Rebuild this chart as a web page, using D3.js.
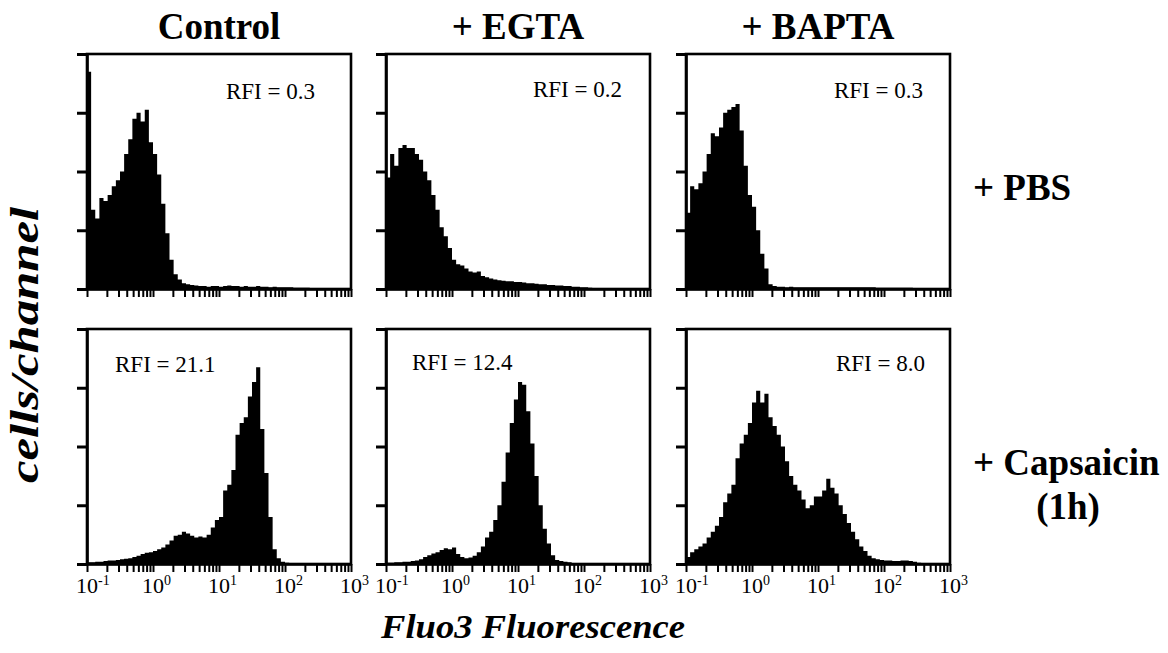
<!DOCTYPE html>
<html>
<head>
<meta charset="utf-8">
<script src="https://cdn.jsdelivr.net/npm/d3@7"></script>
<style>
  body { margin: 0; background: #fff; }
  svg { display: block; }
  text { font-family: "Liberation Serif", "Times New Roman", serif; fill: #000; }
</style>
</head>
<body>
<svg id="chart" width="1168" height="653"></svg>
<script>
// column / row headings
const columns = ['Control', '+ EGTA', '+ BAPTA'];
const rows = ['+ PBS', '+ Capsaicin'];
const rfi = [
  ['RFI = 0.3', 'RFI = 0.2', 'RFI = 0.3'],
  ['RFI = 21.1', 'RFI = 12.4', 'RFI = 8.0']
];
const decades = [0.1, 1, 10, 100, 1000];
const decadeExp = ['-1', '0', '1', '2', '3'];
const yTicks = [0, 1, 2, 3, 4];

// histogram heights, 64 channels over 10^-1 .. 10^3 (16 per decade), in y-tick units
const controlPbs = [3.7, 1.35, 1.2, 1.55, 1.5, 1.6, 1.75, 1.85, 2.0, 2.3, 2.55, 2.9, 3.0, 2.85, 3.05, 2.5,
  2.3, 1.95, 1.45, 0.95, 0.5, 0.25, 0.16, 0.1, 0.08, 0.07, 0.06, 0.05, 0.05, 0.04, 0.05, 0.05,
  0.04, 0.05, 0.06, 0.05, 0.05, 0.04, 0.05, 0.04, 0.04, 0.05, 0.04, 0.04, 0.03, 0.04, 0.03, 0.03,
  0.03, 0.03, 0.02, 0.02, 0.02, 0.02, 0, 0, 0, 0, 0, 0, 0, 0, 0, 0];
const egtaPbs = [1.9, 2.3, 2.1, 2.4, 2.45, 2.4, 2.4, 2.3, 2.2, 2.0, 1.85, 1.6, 1.35, 1.05, 0.9, 0.7,
  0.5, 0.42, 0.4, 0.35, 0.3, 0.28, 0.3, 0.22, 0.2, 0.18, 0.16, 0.15, 0.14, 0.13, 0.13, 0.12,
  0.12, 0.11, 0.1, 0.1, 0.09, 0.08, 0.08, 0.07, 0.07, 0.06, 0.06, 0.05, 0.05, 0.04, 0.04, 0.03,
  0.03, 0.02, 0.01, 0.01, 0.01, 0.01, 0.01, 0, 0, 0, 0, 0, 0, 0, 0, 0];
const baptaPbs = [1.3, 1.75, 1.7, 1.8, 2.0, 2.3, 2.65, 2.6, 2.75, 3.0, 3.05, 3.1, 3.15, 2.7, 2.1, 1.6,
  1.4, 1.0, 0.6, 0.35, 0.08, 0.05, 0.04, 0.04, 0.03, 0.04, 0.03, 0.03, 0.03, 0.03, 0.03, 0.03,
  0.03, 0.03, 0.03, 0.03, 0.03, 0.03, 0.03, 0.03, 0.03, 0.03, 0.03, 0.03, 0.03, 0.03, 0.02, 0.02,
  0.02, 0.02, 0.02, 0.02, 0.02, 0.02, 0.02, 0.01, 0, 0, 0, 0, 0, 0, 0, 0];
const controlCap = [0.03, 0.03, 0.04, 0.04, 0.05, 0.06, 0.06, 0.07, 0.08, 0.09, 0.1, 0.12, 0.14, 0.17, 0.19, 0.2,
  0.22, 0.25, 0.28, 0.33, 0.4, 0.48, 0.5, 0.55, 0.52, 0.48, 0.45, 0.47, 0.45, 0.5, 0.62, 0.75,
  0.8, 1.25, 1.35, 1.6, 2.2, 2.4, 2.5, 2.85, 3.1, 3.35, 2.3, 1.55, 0.8, 0.25, 0.1, 0.04,
  0.02, 0, 0, 0, 0, 0, 0, 0, 0, 0, 0, 0, 0, 0, 0, 0];
const egtaCap = [0.02, 0.02, 0.03, 0.03, 0.04, 0.04, 0.05, 0.06, 0.08, 0.12, 0.15, 0.18, 0.2, 0.24, 0.27, 0.25,
  0.28, 0.17, 0.12, 0.1, 0.11, 0.14, 0.2, 0.3, 0.45, 0.55, 0.75, 1.0, 1.4, 1.9, 2.4, 2.8,
  3.1, 3.05, 2.6, 2.05, 1.5, 1.0, 0.6, 0.35, 0.15, 0.07, 0.05, 0.04, 0.03, 0.01, 0.01, 0,
  0, 0, 0, 0, 0, 0, 0, 0, 0, 0, 0, 0, 0, 0, 0, 0];
const baptaCap = [0.12, 0.2, 0.25, 0.3, 0.35, 0.45, 0.55, 0.65, 0.8, 1.05, 1.2, 1.35, 1.8, 2.05, 2.2, 2.4,
  2.75, 2.95, 2.75, 2.9, 2.5, 2.35, 2.2, 2.0, 1.75, 1.5, 1.35, 1.25, 1.1, 0.95, 1.0, 1.15,
  1.15, 1.25, 1.45, 1.3, 1.2, 1.0, 0.85, 0.7, 0.55, 0.42, 0.3, 0.22, 0.14, 0.1, 0.08, 0.07,
  0.06, 0.06, 0.05, 0.05, 0.06, 0.06, 0.05, 0.04, 0.02, 0, 0, 0, 0, 0, 0, 0];

const series = [
  [controlPbs, egtaPbs, baptaPbs],
  [controlCap, egtaCap, baptaCap]
];

// layout
const colLeft = [87, 386, 686];
const rowTop = [54, 329];
const pw = 264, ph = 235;
// RFI label placement: [anchor, offset from the left or right edge, baseline below top]
const rfiPos = [
  [['end', 36, 45], ['end', 28, 43], ['end', 27, 44]],
  [['start', 28, 43], ['start', 26, 41], ['end', 25, 42]]
];

const svg = d3.select('#chart');

const x = d3.scaleLog().domain([0.1, 1000]).range([0, pw]);
const y = d3.scaleLinear().domain([0, 4]).range([ph, 0]);
const nBins = 64;
const edges = d3.range(nBins + 1).map(i => Math.pow(10, -1 + 4 * i / nBins));

const area = d3.area()
  .x(d => x(d.at))
  .y0(ph)
  .y1(d => y(d.v))
  .curve(d3.curveStepAfter);

series.forEach((rowData, r) => {
  rowData.forEach((vals, c) => {
    const g = svg.append('g')
      .attr('transform', `translate(${colLeft[c]},${rowTop[r]})`);

    const pts = vals.map((v, i) => ({ at: edges[i], v: v }));
    pts.push({ at: edges[nBins], v: vals[nBins - 1] });

    g.append('path')
      .datum(pts)
      .attr('d', area)
      .attr('fill', '#000');

    // frame
    g.append('rect')
      .attr('width', pw).attr('height', ph)
      .attr('fill', 'none').attr('stroke', '#000').attr('stroke-width', 2.6);

    // y ticks
    const ya = g.append('g')
      .call(d3.axisLeft(y).tickValues(yTicks).tickSize(10).tickSizeOuter(0).tickFormat(''));
    ya.select('.domain').attr('stroke-width', 2.6);
    ya.selectAll('.tick line').attr('stroke-width', 3);

    // x ticks (log minor ticks)
    const xa = g.append('g')
      .attr('transform', `translate(0,${ph})`)
      .call(d3.axisBottom(x).tickValues(x.ticks()).tickSize(8).tickSizeOuter(0).tickFormat(''));
    xa.select('.domain').attr('stroke-width', 2.6);
    xa.selectAll('.tick line').attr('stroke-width', 2);

    if (r === 1) {
      const lab = g.append('g').selectAll('text')
        .data(decades)
        .join('text')
        .attr('x', d => x(d) - 11)
        .attr('y', ph + 29)
        .attr('font-size', 22);
      lab.append('tspan').text('10');
      lab.append('tspan')
        .attr('font-size', 14)
        .attr('dy', -8)
        .text((d, i) => decadeExp[i]);
    }

    const p = rfiPos[r][c];
    g.append('text')
      .attr('x', p[0] === 'end' ? pw - p[1] : p[1])
      .attr('y', p[2])
      .attr('text-anchor', p[0])
      .attr('font-size', 23)
      .text(rfi[r][c]);
  });
});

// column titles
svg.selectAll('text.col')
  .data(columns)
  .join('text')
  .attr('class', 'col')
  .attr('x', (d, i) => colLeft[i] + pw / 2)
  .attr('y', 39)
  .attr('text-anchor', 'middle')
  .attr('font-size', 37)
  .attr('font-weight', 'bold')
  .text(d => d);

// row titles
svg.append('text')
  .attr('x', 973).attr('y', 200)
  .attr('font-size', 37).attr('font-weight', 'bold')
  .text(rows[0]);
svg.append('text')
  .attr('x', 973).attr('y', 475)
  .attr('font-size', 37).attr('font-weight', 'bold')
  .text(rows[1]);
svg.append('text')
  .attr('x', 1068).attr('y', 519)
  .attr('text-anchor', 'middle')
  .attr('font-size', 37).attr('font-weight', 'bold')
  .text('(1h)');

// axis titles
svg.append('text')
  .attr('transform', 'translate(38,345) rotate(-90)')
  .attr('text-anchor', 'middle')
  .attr('font-size', 40).attr('font-weight', 'bold').attr('font-style', 'italic')
  .attr('textLength', 276).attr('lengthAdjust', 'spacingAndGlyphs')
  .text('cells/channel');

svg.append('text')
  .attr('x', 533).attr('y', 638)
  .attr('text-anchor', 'middle')
  .attr('font-size', 34).attr('font-weight', 'bold').attr('font-style', 'italic')
  .attr('textLength', 304).attr('lengthAdjust', 'spacingAndGlyphs')
  .text('Fluo3 Fluorescence');
</script>
</body>
</html>
